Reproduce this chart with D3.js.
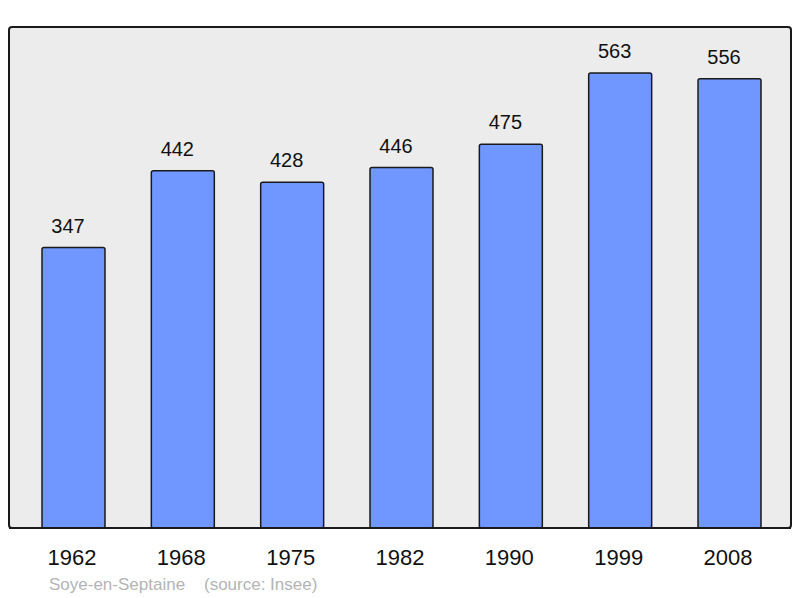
<!DOCTYPE html>
<html>
<head>
<meta charset="utf-8">
<script src="https://cdn.jsdelivr.net/npm/d3@7"></script>
<style>
  body { margin: 0; background: #fff; }
  text { font-family: "Liberation Sans", Arial, sans-serif; }
</style>
</head>
<body>
<svg id="chart" width="800" height="598"></svg>
<script>
// data
var years = ["1962", "1968", "1975", "1982", "1990", "1999", "2008"];
var population = [347, 442, 428, 446, 475, 563, 556];
var placeName = "Soye-en-Septaine";
var sourceNote = "(source: Insee)";

var svg = d3.select("#chart");

var frame = {left: 9, top: 27, right: 791, bottom: 528};

var x = d3.scaleBand()
    .domain(years)
    .range([42, 761])
    .paddingInner(0.424)
    .paddingOuter(0);

var y = d3.scaleLinear()
    .domain([0, 620])
    .range([frame.bottom, frame.top]);

// background frame
svg.append("rect")
    .attr("x", frame.left)
    .attr("y", frame.top)
    .attr("width", frame.right - frame.left)
    .attr("height", frame.bottom - frame.top)
    .attr("rx", 3)
    .attr("fill", "#ececec")
    .attr("stroke", "#1a1a1a")
    .attr("stroke-width", 2);

// bars
svg.append("g").selectAll("rect")
    .data(population)
    .join("rect")
    .attr("x", function(d, i) { return x(years[i]); })
    .attr("y", function(d) { return y(d); })
    .attr("width", x.bandwidth())
    .attr("height", function(d) { return y(0) - y(d); })
    .attr("rx", 2)
    .attr("fill", "#7097ff")
    .attr("stroke", "#1a1a1a")
    .attr("stroke-width", 1.5);

// value labels (sit slightly left of the bar centre, as in the original)
svg.append("g").selectAll("text")
    .data(population)
    .join("text")
    .attr("x", function(d, i) { return x(years[i]) + x.bandwidth() / 2 - 5.5; })
    .attr("y", function(d) { return y(d) - 15; })
    .attr("text-anchor", "middle")
    .attr("font-size", 20)
    .attr("fill", "#111")
    .text(function(d) { return d; });

// redraw baseline on top of bars
svg.append("line")
    .attr("x1", frame.left)
    .attr("x2", frame.right)
    .attr("y1", frame.bottom)
    .attr("y2", frame.bottom)
    .attr("stroke", "#1a1a1a")
    .attr("stroke-width", 2);

// x axis (year labels)
var xAxis = d3.axisBottom(x).tickSize(0).tickPadding(0);
var gx = svg.append("g")
    .attr("transform", "translate(-1.5," + 565 + ")")
    .call(xAxis);
gx.select(".domain").remove();
gx.selectAll("text")
    .attr("dy", 0)
    .attr("font-size", 22)
    .attr("font-family", "Liberation Sans, Arial, sans-serif")
    .attr("fill", "#111");

// footer
svg.append("text")
    .attr("x", 49)
    .attr("y", 590)
    .attr("font-size", 17)
    .attr("fill", "#b4b4b4")
    .attr("xml:space", "preserve")
    .text(placeName + "    " + sourceNote);
</script>
</body>
</html>
